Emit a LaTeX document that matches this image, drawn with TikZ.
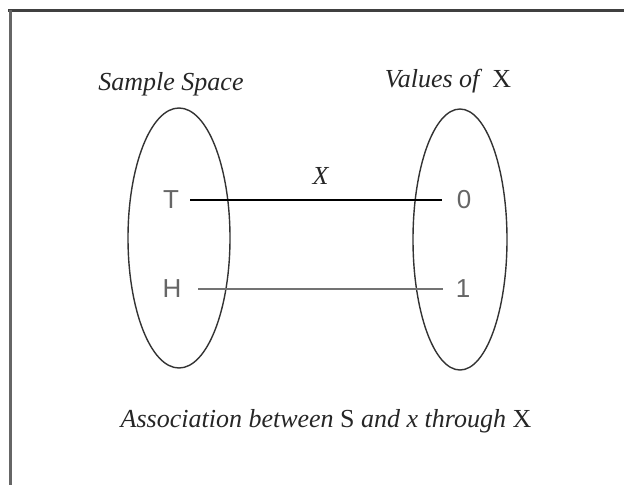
\documentclass[tikz,border=0pt]{standalone}
\usepackage{fontspec}
\setmainfont{Liberation Serif}
\setsansfont{Liberation Sans}
\usetikzlibrary{shapes.geometric, positioning}

\begin{document}
\begin{tikzpicture}[
        x=1pt, y=-1pt,
        setoval/.style={draw=black!80, ellipse, inner sep=0pt, line width=1.4pt, minimum width=#1},
        title/.style={font=\fontsize{26}{30}\selectfont\itshape, text=black!85, inner sep=0pt},
        element/.style={font=\fontsize{26}{30}\selectfont\sffamily, text=black!60, inner sep=4pt},
        link/.style={line width=1.3pt}
    ]
        \useasboundingbox (0,0) rectangle (624,485);
        % frame
        \draw [black!75, line width=3pt] (8,10) -- (624,10);
        \draw [black!60, line width=3pt] (10,10) -- (10,485);

        \node (sample) [setoval=102pt, minimum height=260pt] at (179,238) {};
        \node (values) [setoval=94pt, minimum height=261pt] at (460,239.5) {};
        \node (sample_title) [title, above=17pt of sample.north, anchor=base, xshift=-8pt] {Sample Space};
        \node (values_title) [title, above=21pt of values.north, anchor=base, xshift=-12pt] {Values of ~\textup{X}};

        \node (T) [element] at (171,200) {T};
        \node (H) [element] at (172,289) {H};
        \node (zero) [element] at (464,200) {0};
        \node (one) [element] at (463,289) {1};

        \draw [link, shorten <=7pt, shorten >=11pt] (T) -- node[title, above=11pt, pos=0.51, inner sep=4pt] (map) {X} (zero);
        \draw [link, black!55, line width=2pt, shorten <=12.5pt, shorten >=9pt] (H) -- (one);

        \node (caption) [title, anchor=base] at (326,427) {Association between \textup{S} and x through \textup{X}};
    \end{tikzpicture}
\end{document}
